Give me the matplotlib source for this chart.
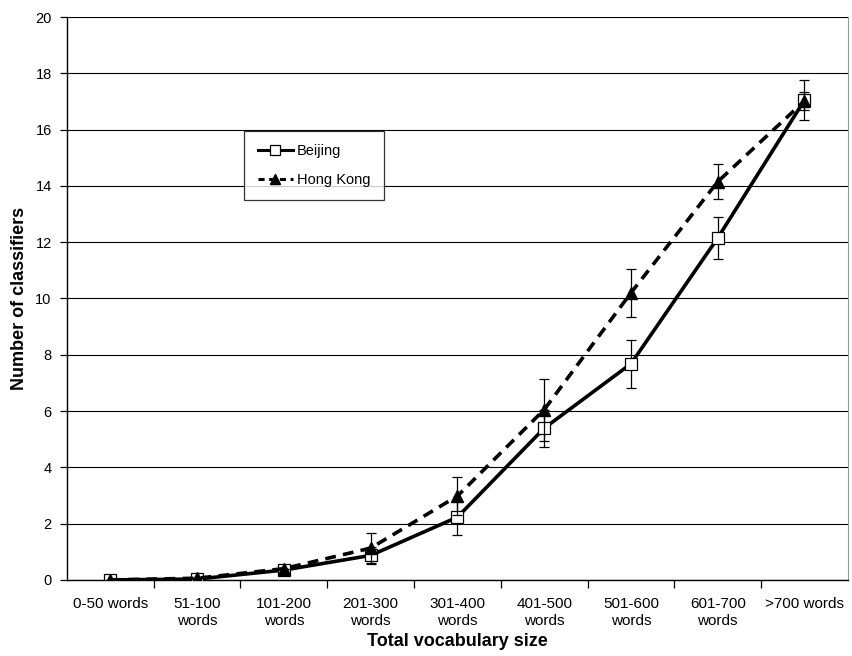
import matplotlib
matplotlib.use("Agg")
import matplotlib.pyplot as plt
from matplotlib.lines import Line2D
import numpy as np

plt.rcParams["font.family"] = ["Liberation Sans", "DejaVu Sans"]

categories = ["0-50 words", "51-100\nwords", "101-200\nwords", "201-300\nwords",
              "301-400\nwords", "401-500\nwords", "501-600\nwords", "601-700\nwords",
              ">700 words"]
beijing = [0.0, 0.03, 0.35, 0.87, 2.23, 5.39, 7.68, 12.15, 17.05]
beijing_err = [0.0, 0.0, 0.0, 0.3, 0.62, 0.66, 0.85, 0.75, 0.72]
hongkong = [0.0, 0.06, 0.4, 1.13, 2.98, 6.05, 10.2, 14.15, 17.02]
hongkong_err = [0.0, 0.0, 0.0, 0.52, 0.66, 1.1, 0.86, 0.62, 0.32]

fig = plt.figure(figsize=(8.53, 6.56), dpi=100)
ax = fig.add_axes([0.0785, 0.116, 0.9155, 0.858])

x = np.arange(len(categories))
ax.errorbar(x, beijing, yerr=beijing_err, color="black", lw=2.6, marker="s", ms=9,
            mfc="white", mec="black", mew=0.9, ecolor="black", elinewidth=0.9,
            capsize=3.5, capthick=0.9, zorder=3)
ax.errorbar(x, hongkong, yerr=hongkong_err, color="black", lw=2.6, ls=(0, (3, 2)),
            marker="^", ms=8, mfc="black", mec="black", ecolor="black", elinewidth=0.9,
            capsize=3.5, capthick=0.9, zorder=4)

ax.set_xlim(-0.5, len(categories) - 0.5)
ax.set_ylim(0, 20)
ax.set_yticks(np.arange(0, 21, 2))
ax.yaxis.grid(True, color="black", lw=0.8)
ax.set_axisbelow(True)

ax.set_xticks(x)
ax.set_xticklabels(categories, fontsize=11, linespacing=1.3)
ax.tick_params(axis="x", length=0, pad=12)
ax.set_xticks(np.arange(0.5, len(categories) - 0.5, 1), minor=True)
ax.tick_params(axis="x", which="minor", length=6, direction="out", width=0.9)
ax.tick_params(axis="y", length=5, direction="out", labelsize=10.5, width=0.9, pad=6)

for s in ("left", "bottom"):
    ax.spines[s].set_linewidth(1.0)
ax.spines["top"].set_visible(False)
ax.spines["right"].set_color("#999999")
ax.spines["right"].set_linewidth(0.8)

ax.set_xlabel("Total vocabulary size", fontsize=13, fontweight="bold", labelpad=4)
ax.set_ylabel("Number of classifiers", fontsize=13, fontweight="bold", labelpad=5)

handles = [
    Line2D([], [], color="black", lw=2.2, marker="s", ms=7, mfc="white", mec="black", mew=0.9),
    Line2D([], [], color="black", lw=2.2, ls=(0, (2, 1.5)), marker="^", ms=7, mfc="black", mec="black"),
]
leg = ax.legend(handles, ["Beijing", "Hong Kong"], loc="upper left",
                bbox_to_anchor=(0.218, 0.81), frameon=True, fancybox=False,
                edgecolor="black", fontsize=10.5, handlelength=2.4,
                borderpad=0.9, labelspacing=1.0, handletextpad=0.3)
leg.get_frame().set_linewidth(0.9)

fig.savefig("out.png", dpi=100)
